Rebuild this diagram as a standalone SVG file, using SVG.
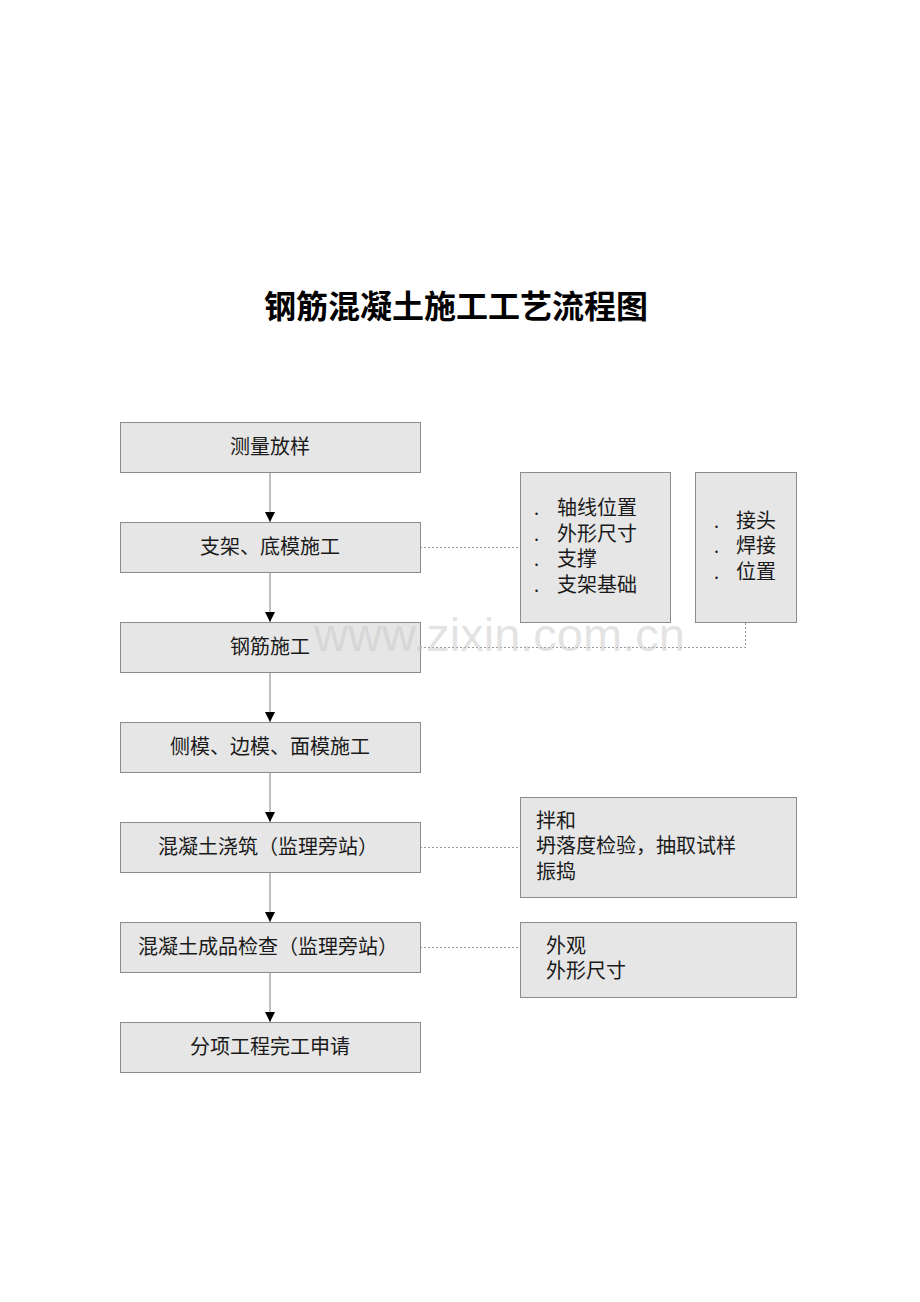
<svg xmlns="http://www.w3.org/2000/svg" width="920" height="1302" viewBox="0 0 920 1302">
<style>
.box{fill:#e6e6e6;stroke:#8c8c8c;stroke-width:1}
.t{font-family:"Liberation Serif","Noto Sans CJK SC",serif;font-size:20px;fill:#1a1a1a}
.c{text-anchor:middle}
.flow{stroke:#808080;stroke-width:1;fill:none}
.dash{stroke:#999;stroke-width:1;stroke-dasharray:2,2;fill:none}
</style>
<defs>
<marker id="ah" viewBox="0 0 10 10" refX="10" refY="5" markerWidth="10" markerHeight="10" markerUnits="userSpaceOnUse" orient="auto"><path d="M0,0 L10,5 L0,10 z" fill="#000"/></marker>
</defs>
<rect width="920" height="1302" fill="#fff"/>
<text x="456" y="318" text-anchor="middle" font-family="Noto Sans CJK SC, sans-serif" font-size="32" font-weight="bold" fill="#000">钢筋混凝土施工工艺流程图</text>
<g id="connectors">
<line class="flow" x1="270" y1="472" x2="270" y2="522" marker-end="url(#ah)"/>
<line class="flow" x1="270" y1="572" x2="270" y2="622" marker-end="url(#ah)"/>
<line class="flow" x1="270" y1="672" x2="270" y2="722" marker-end="url(#ah)"/>
<line class="flow" x1="270" y1="772" x2="270" y2="822" marker-end="url(#ah)"/>
<line class="flow" x1="270" y1="872" x2="270" y2="922" marker-end="url(#ah)"/>
<line class="flow" x1="270" y1="972" x2="270" y2="1022" marker-end="url(#ah)"/>
<line class="dash" x1="420" y1="547.5" x2="520" y2="547.5"/>
<polyline class="dash" points="420,647.5 745.5,647.5 745.5,622"/>
<line class="dash" x1="420" y1="847.5" x2="520" y2="847.5"/>
<line class="dash" x1="420" y1="947.5" x2="520" y2="947.5"/>
</g>
<g id="n1"><rect class="box" x="120.5" y="422.5" width="300" height="50"/><text class="t c" x="270" y="454">测量放样</text></g>
<g id="n2"><rect class="box" x="120.5" y="522.5" width="300" height="50"/><text class="t c" x="270" y="554">支架、底模施工</text></g>
<g id="n3"><rect class="box" x="120.5" y="622.5" width="300" height="50"/><text class="t c" x="270" y="654">钢筋施工</text></g>
<g id="n4"><rect class="box" x="120.5" y="722.5" width="300" height="50"/><text class="t c" x="270" y="754">侧模、边模、面模施工</text></g>
<g id="n5"><rect class="box" x="120.5" y="822.5" width="300" height="50"/><text class="t c" x="268" y="854">混凝土浇筑（监理旁站）</text></g>
<g id="n6"><rect class="box" x="120.5" y="922.5" width="300" height="50"/><text class="t c" x="268" y="954">混凝土成品检查（监理旁站）</text></g>
<g id="n7"><rect class="box" x="120.5" y="1022.5" width="300" height="50"/><text class="t c" x="270" y="1054">分项工程完工申请</text></g>
<g id="a1"><rect class="box" x="520.5" y="472.5" width="150" height="150"/>
<text class="t" x="534" y="515">.</text><text class="t" x="557" y="515">轴线位置</text>
<text class="t" x="534" y="541">.</text><text class="t" x="557" y="541">外形尺寸</text>
<text class="t" x="534" y="566">.</text><text class="t" x="557" y="566">支撑</text>
<text class="t" x="534" y="592">.</text><text class="t" x="557" y="592">支架基础</text></g>
<g id="a2"><rect class="box" x="695.5" y="472.5" width="101" height="150"/>
<text class="t" x="714" y="528">.</text><text class="t" x="736" y="528">接头</text>
<text class="t" x="714" y="553">.</text><text class="t" x="736" y="553">焊接</text>
<text class="t" x="714" y="579">.</text><text class="t" x="736" y="579">位置</text></g>
<g id="a3"><rect class="box" x="520.5" y="797.5" width="276" height="100"/>
<text class="t" x="536" y="828">拌和</text>
<text class="t" x="536" y="853">坍落度检验，抽取试样</text>
<text class="t" x="536" y="879">振捣</text></g>
<g id="a4"><rect class="box" x="520.5" y="922.5" width="276" height="75"/>
<text class="t" x="546" y="953">外观</text>
<text class="t" x="546" y="978">外形尺寸</text></g>
<text x="314" y="651" font-family="Liberation Sans, sans-serif" font-size="47" fill="#c8c8c8" fill-opacity="0.5">www.zixin.com.cn</text>
</svg>
